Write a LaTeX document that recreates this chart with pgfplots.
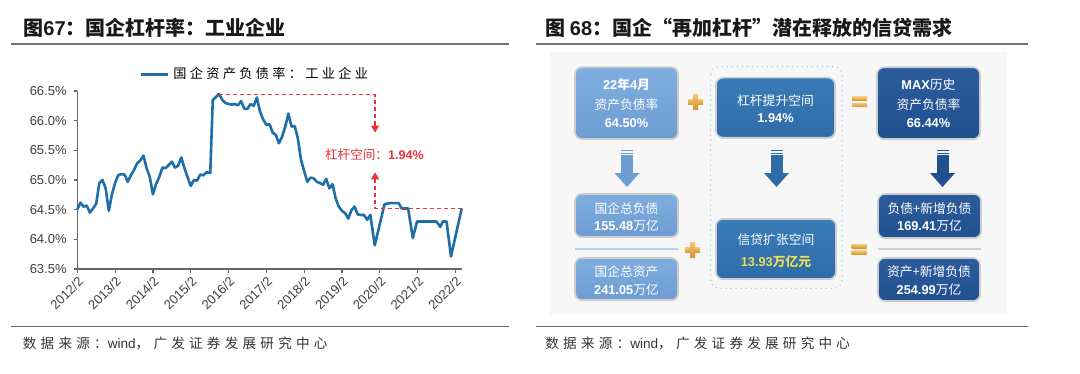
\documentclass[border=0pt]{standalone}
\usepackage{fontspec}
\setmainfont{Liberation Sans}
\newfontfamily\cjk{Noto Sans CJK SC}
\newfontfamily\cjksp{Noto Sans CJK SC}[LetterSpace=25]
\newfontfamily\cjksrc{Noto Sans CJK SC}[LetterSpace=31]
\usepackage{pgfplots}
\pgfplotsset{compat=1.18}
\usetikzlibrary{shadows,arrows.meta}
\definecolor{lb}{HTML}{6C9CD2}
\definecolor{lbt}{HTML}{80AEE0}
\definecolor{mb}{HTML}{2D6CA8}
\definecolor{mbt}{HTML}{3A7BB8}
\definecolor{nb}{HTML}{21508F}
\definecolor{nbt}{HTML}{2C5C9C}
\definecolor{goldt}{HTML}{F2C770}
\definecolor{goldb}{HTML}{D8922E}
\definecolor{yel}{HTML}{E8DC5A}
\definecolor{lineblue}{HTML}{1F6EA8}
\definecolor{ared}{HTML}{E5343A}
\begin{document}
\begin{tikzpicture}
\begin{scope}[x=0.5pt,y=-0.5pt]
\fill[white] (0,0) rectangle (1080,374);
\useasboundingbox (0,0) rectangle (1080,374);
% titles
\node[anchor=west,inner sep=0,text=black!90,font=\fontsize{10}{12}\selectfont] at (23,28)
  {{\cjk\bfseries 图}{\bfseries 67}{\cjk\bfseries ：国企杠杆率：工业企业}};
\node[anchor=west,inner sep=0,text=black!90,font=\fontsize{10}{12}\selectfont] at (545,28)
  {{\cjk\bfseries 图 }{\bfseries 68}{\cjk\bfseries ：国企“再加杠杆”潜在释放的信贷需求}};
\draw[black!55,line width=0.8pt] (11,44) -- (509,44);
\draw[black!55,line width=0.8pt] (536,44) -- (1028,44);
\draw[black!60,line width=0.7pt] (11,326.3) -- (509,326.3);
\draw[black!60,line width=0.7pt] (536,326.3) -- (1028,326.3);
\node[anchor=west,inner sep=0,text=black!80,font=\fontsize{6.8}{8}\selectfont] at (22.5,343.6)
  {{\cjksrc 数据来源：}wind{\cjksrc ，广发证券发展研究中心}};
\node[anchor=west,inner sep=0,text=black!80,font=\fontsize{6.8}{8}\selectfont] at (545,343.6)
  {{\cjksrc 数据来源：}wind{\cjksrc ，广发证券发展研究中心}};
% right diagram
\fill[black!3] (550,52) rectangle (1007,315);
\draw[draw=mb!45,dotted,line width=0.5pt,rounded corners=4pt] (710.7,66.7) rectangle (842,288.3);
\tikzset{box/.style={rounded corners=3.5pt,draw=white!80!black,line width=0.8pt,
   drop shadow={opacity=0.2,shadow xshift=0.4pt,shadow yshift=-0.6pt}},
   txt/.style={text=white,inner sep=0,font=\fontsize{6.4}{7}\selectfont}}
\path[box,top color=lbt,bottom color=lb] (575,67.3) rectangle (678,139);
\path[box,top color=mbt,bottom color=mb] (716,77.7) rectangle (835,137.7);
\path[box,top color=nbt,bottom color=nb] (877,67.3) rectangle (980,139);
\path[box,top color=lbt,bottom color=lb] (575,194) rectangle (678,237);
\path[box,top color=lbt,bottom color=lb] (575,258) rectangle (678,300);
\path[box,top color=mbt,bottom color=mb] (716,219) rectangle (836,279);
\path[box,top color=nbt,bottom color=nb] (878,194) rectangle (981,238);
\path[box,top color=nbt,bottom color=nb] (878,258) rectangle (980,301);
\draw[lb!50,line width=0.6pt] (575,249) -- (678,249);
\draw[black!20,line width=0.6pt] (878,249) -- (981,249);
% texts
\node[txt] at (626.5,85) {{\bfseries 22}{\cjk\bfseries 年}{\bfseries 4}{\cjk\bfseries 月}};
\node[txt] at (626.5,104.5) {{\cjk 资产负债率}};
\node[txt] at (626.5,123) {\bfseries 64.50\%};
\node[txt] at (775.5,100.5) {{\cjk 杠杆提升空间}};
\node[txt] at (775.5,118.3) {\bfseries 1.94\%};
\node[txt] at (928.5,85) {{\bfseries MAX}{\cjk 历史}};
\node[txt] at (928.5,104.3) {{\cjk 资产负债率}};
\node[txt] at (928.5,123.3) {\bfseries 66.44\%};
\node[txt] at (626.5,208.3) {{\cjk 国企总负债}};
\node[txt] at (626.5,225.7) {{\bfseries 155.48}{\cjk 万亿}};
\node[txt] at (626.5,271.7) {{\cjk 国企总资产}};
\node[txt] at (626.5,289.5) {{\bfseries 241.05}{\cjk 万亿}};
\node[txt] at (776,240) {{\cjk 信贷扩张空间}};
\node[txt,text=yel] at (776,261.7) {{\bfseries 13.93}{\cjk\bfseries 万亿元}};
\node[txt] at (929.5,208.3) {{\cjk 负债+新增负债}};
\node[txt] at (929.5,225.7) {{\bfseries 169.41}{\cjk 万亿}};
\node[txt] at (929,271.7) {{\cjk 资产+新增负债}};
\node[txt] at (929,289.5) {{\bfseries 254.99}{\cjk 万亿}};
% block arrows
\foreach \cx/\col in {627/lb,776.5/mb,942.5/nb}{
  \fill[\col] (\cx-6,150) rectangle (\cx+6,151.3);
  \fill[\col] (\cx-6,152.6) rectangle (\cx+6,153.9);
  \fill[\col] (\cx-6,155.2) rectangle (\cx+6,173.5);
  \fill[\col] (\cx-12.5,173) -- (\cx+12.5,173) -- (\cx,187) -- cycle;
}
% plus and equal signs
\foreach \px/\py in {695.5/102,692.5/250}{
  \path[top color=goldt,bottom color=goldb] (\px-7.5,\py-2.5) rectangle (\px+7.5,\py+2.5);
  \path[top color=goldt,bottom color=goldb] (\px-2.5,\py-7.5) rectangle (\px+2.5,\py+7.5);
}
\foreach \px/\py in {859.5/102,859/249.5}{
  \path[top color=goldt,bottom color=goldb] (\px-7.5,\py-5) rectangle (\px+7.5,\py-1.3);
  \path[top color=goldt,bottom color=goldb] (\px-7.5,\py+1.3) rectangle (\px+7.5,\py+5);
}
\end{scope}
\begin{axis}[
  at={(38.65pt,-134.5pt)}, anchor=south west,
  scale only axis, width=192.2pt, height=89pt,
  xmin=0, xmax=122, ymin=63.5, ymax=66.5,
  axis lines=left,
  axis line style={-, draw=black!60, line width=0.6pt},
  xtick={0,12,24,36,48,60,72,84,96,108,120},
  xticklabels={2012/2,2013/2,2014/2,2015/2,2016/2,2017/2,2018/2,2019/2,2020/2,2021/2,2022/2},
  x tick label style={rotate=45, anchor=north east, font=\fontsize{6.5}{7}\selectfont, text=black!75, inner sep=1pt},
  ytick={63.5,64.0,64.5,65.0,65.5,66.0,66.5},
  yticklabel={\pgfmathprintnumber[fixed,fixed zerofill,precision=1]{\tick}\%},
  y tick label style={font=\fontsize{6.5}{7}\selectfont, text=black!75},
  /pgf/number format/assume math mode=true,
  tick align=outside, major tick length=1.8pt,
  tick style={black!60, line width=0.6pt},
  legend style={at={(axis description cs:0.465,1.092)}, anchor=center, draw=none, fill=none,
     font=\fontsize{6.6}{8}\selectfont, inner sep=0pt},
  legend image code/.code={\draw[#1] (0pt,0pt) -- (13.5pt,0pt);},
  clip=false,
]
\addplot[lineblue, line width=1.3pt, line join=round] table[x=m,y=v] {
m v
0 64.50
1 64.62
2 64.55
3 64.57
4 64.45
5 64.52
6 64.60
7 64.95
8 65.00
9 64.86
10 64.48
11 64.76
12 64.95
13 65.08
14 65.10
15 65.09
16 64.97
17 65.08
18 65.17
19 65.28
20 65.33
21 65.41
22 65.20
23 65.05
24 64.76
25 64.93
26 65.05
27 65.21
28 65.20
29 65.25
30 65.31
31 65.21
32 65.24
33 65.38
34 65.20
35 65.05
36 64.90
37 65.00
38 64.99
39 65.09
40 65.08
41 65.13
42.2 65.12
43 66.35
44 66.40
45 66.45
46 66.35
47 66.30
48 66.28
49 66.27
50 66.28
51 66.26
52 66.33
53 66.20
54 66.20
55 66.28
56 66.25
57 66.39
58 66.15
59 66.02
60 65.93
61 65.94
62 65.80
63 65.76
64 65.62
65 65.73
66 65.90
67 66.12
68 65.90
69 65.91
70 65.70
71 65.34
72 65.15
73 64.97
74 65.04
75 65.03
76 64.97
77 64.95
78 64.92
79 65.02
80 64.86
81 64.93
82 64.69
83 64.55
84 64.48
85 64.44
86 64.35
87 64.49
88 64.55
89 64.42
90 64.41
91 64.41
92 64.33
93 64.41
94.4 63.90
97.5 64.59
99 64.61
102 64.61
103 64.52
105 64.52
106.5 64.02
107.8 64.30
114 64.30
115.2 64.21
116 64.30
117.2 64.30
118.6 63.71
122 64.52
};
\addlegendentry{{\cjksp 国企资产负债率：工业企业}}
\draw[ared, line width=0.6pt, dash pattern=on 2pt off 1.5pt] (axis cs:45,66.44) -- (axis cs:94.5,66.44) -- (axis cs:94.5,65.95);
\draw[ared, line width=0.6pt, -{Triangle[width=4pt,length=3.5pt]}] (axis cs:94.5,65.96) -- (axis cs:94.5,65.80);
\draw[ared, line width=0.6pt, dash pattern=on 2pt off 1.5pt] (axis cs:122,64.52) -- (axis cs:94.5,64.52) -- (axis cs:94.5,64.98);
\draw[ared, line width=0.6pt, -{Triangle[width=4pt,length=3.5pt]}] (axis cs:94.5,64.97) -- (axis cs:94.5,65.13);
\node[text=ared, font=\fontsize{6.3}{8}\selectfont, inner sep=0] at (axis cs:94.3,65.42) {{\cjk 杠杆空间：}\bfseries 1.94\%};
\end{axis}
\end{tikzpicture}
\end{document}
